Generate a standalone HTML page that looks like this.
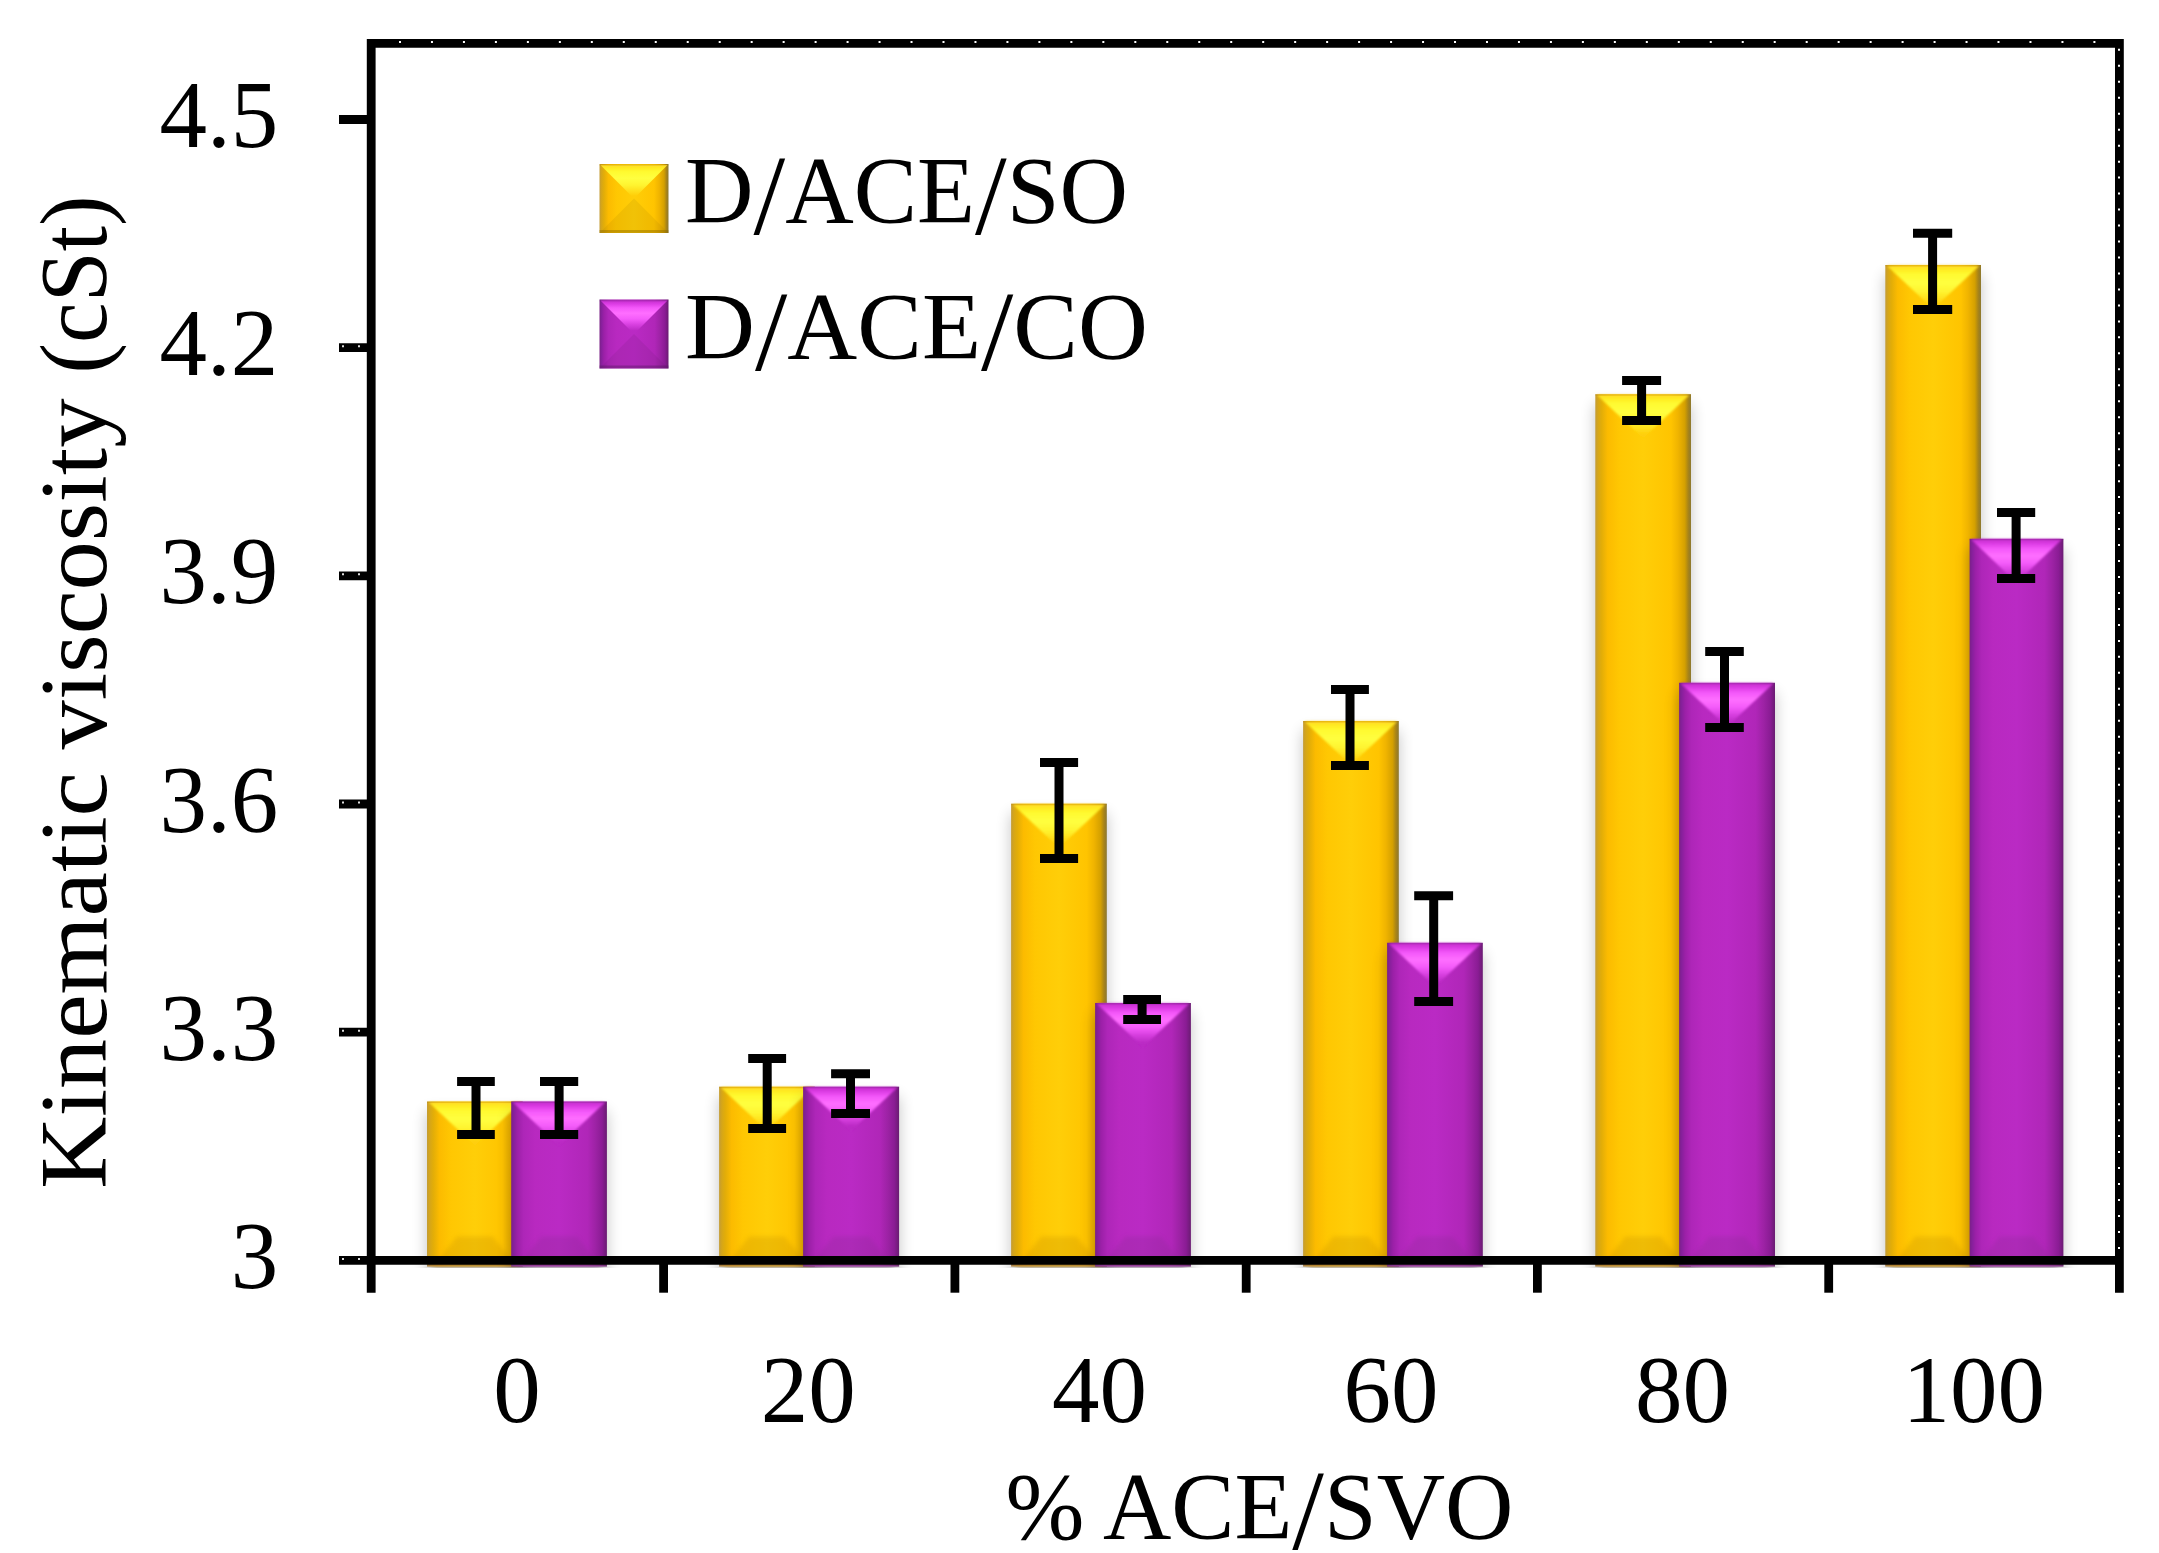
<!DOCTYPE html>
<html><head><meta charset="utf-8"><title>Kinematic viscosity</title>
<style>
html,body{margin:0;padding:0;background:#fff}
svg{display:block}
text{font-family:"Liberation Serif",serif;fill:#000}
</style></head><body>
<svg width="2159" height="1553" viewBox="0 0 2159 1553">
<defs>
<filter id="bl" x="-50%" y="-20%" width="200%" height="140%"><feGaussianBlur stdDeviation="7.5"/></filter>
<filter id="b3" x="-20%" y="-30%" width="140%" height="160%"><feGaussianBlur stdDeviation="2"/></filter>
<filter id="b2" x="-20%" y="-20%" width="140%" height="140%"><feGaussianBlur stdDeviation="1.2"/></filter>
<linearGradient id="gy" x1="0" x2="1" y1="0" y2="0">
<stop offset="0" stop-color="#C49C34"/><stop offset=".03" stop-color="#D6A618"/><stop offset=".065" stop-color="#E2AD08"/><stop offset=".13" stop-color="#FCBB00"/><stop offset=".25" stop-color="#FFC702"/><stop offset=".5" stop-color="#FFCE08"/><stop offset=".79" stop-color="#FFC400"/><stop offset=".865" stop-color="#F0B400"/><stop offset=".935" stop-color="#D4A000"/><stop offset=".97" stop-color="#A88418"/><stop offset="1" stop-color="#8C7830"/>
</linearGradient>
<linearGradient id="gp" x1="0" x2="1" y1="0" y2="0">
<stop offset="0" stop-color="#7A2086"/><stop offset=".025" stop-color="#85209A"/><stop offset=".065" stop-color="#9C20A8"/><stop offset=".13" stop-color="#AE26B8"/><stop offset=".25" stop-color="#B829C0"/><stop offset=".5" stop-color="#BA2AC4"/><stop offset=".8" stop-color="#B026B8"/><stop offset=".885" stop-color="#9C22A4"/><stop offset=".95" stop-color="#8A1C94"/><stop offset="1" stop-color="#6A1C72"/>
</linearGradient>
<linearGradient id="ty" x1="0" x2="0" y1="0" y2="1">
<stop offset="0" stop-color="#FFD830"/><stop offset=".07" stop-color="#FFE820"/><stop offset=".2" stop-color="#FFFA30"/><stop offset=".4" stop-color="#FFFF40"/><stop offset=".6" stop-color="#FFF430"/><stop offset=".8" stop-color="#FFDC18"/><stop offset=".92" stop-color="#FFCE08"/><stop offset="1" stop-color="#FFCE08"/>
</linearGradient>
<linearGradient id="tp" x1="0" x2="0" y1="0" y2="1">
<stop offset="0" stop-color="#C42ECC"/><stop offset=".1" stop-color="#DC3CE4"/><stop offset=".22" stop-color="#F458FA"/><stop offset=".38" stop-color="#FF6EFF"/><stop offset=".55" stop-color="#F45CFA"/><stop offset=".72" stop-color="#D840E0"/><stop offset=".9" stop-color="#BA2AC4"/><stop offset="1" stop-color="#BA2AC4"/>
</linearGradient>
</defs>
<rect width="2159" height="1553" fill="#fff"/>

<clipPath id="cp"><rect x="0" y="0" width="2159" height="1268"/></clipPath><g clip-path="url(#cp)">
<rect x="427.0" y="1111.5" width="95.7" height="185.0" fill="#000" opacity=".23" filter="url(#bl)"/>
<rect x="427.0" y="1101.5" width="95.7" height="165.0" fill="url(#gy)"/>
<g filter="url(#b2)"><polygon points="428.5,1102.0 521.2,1102.0 474.9,1145.5" fill="url(#ty)"/></g>
<polygon points="431.0,1269.5 518.7,1269.5 492.7,1236.5 457.0,1236.5" fill="#B07800" opacity=".2" filter="url(#b3)"/>
<rect x="427.0" y="1101.5" width="95.7" height="1.5" fill="#B07800" opacity=".25"/>
<rect x="427.0" y="1264.0" width="95.7" height="2.5" fill="#70506a" opacity=".45"/>
<rect x="719.1" y="1096.7" width="95.7" height="199.8" fill="#000" opacity=".23" filter="url(#bl)"/>
<rect x="719.1" y="1086.7" width="95.7" height="179.8" fill="url(#gy)"/>
<g filter="url(#b2)"><polygon points="720.6,1087.2 813.3,1087.2 767.0,1130.7" fill="url(#ty)"/></g>
<polygon points="723.1,1269.5 810.8,1269.5 784.8,1236.5 749.1,1236.5" fill="#B07800" opacity=".2" filter="url(#b3)"/>
<rect x="719.1" y="1086.7" width="95.7" height="1.5" fill="#B07800" opacity=".25"/>
<rect x="719.1" y="1264.0" width="95.7" height="2.5" fill="#70506a" opacity=".45"/>
<rect x="1011.1" y="813.7" width="95.7" height="482.8" fill="#000" opacity=".23" filter="url(#bl)"/>
<rect x="1011.1" y="803.7" width="95.7" height="462.8" fill="url(#gy)"/>
<g filter="url(#b2)"><polygon points="1012.6,804.2 1105.3,804.2 1059.0,847.7" fill="url(#ty)"/></g>
<polygon points="1015.1,1269.5 1102.8,1269.5 1076.8,1236.5 1041.1,1236.5" fill="#B07800" opacity=".2" filter="url(#b3)"/>
<rect x="1011.1" y="803.7" width="95.7" height="1.5" fill="#B07800" opacity=".25"/>
<rect x="1011.1" y="1264.0" width="95.7" height="2.5" fill="#70506a" opacity=".45"/>
<rect x="1303.1" y="731.0" width="95.7" height="565.5" fill="#000" opacity=".23" filter="url(#bl)"/>
<rect x="1303.1" y="721.0" width="95.7" height="545.5" fill="url(#gy)"/>
<g filter="url(#b2)"><polygon points="1304.6,721.5 1397.3,721.5 1350.9,765.0" fill="url(#ty)"/></g>
<polygon points="1307.1,1269.5 1394.8,1269.5 1368.8,1236.5 1333.1,1236.5" fill="#B07800" opacity=".2" filter="url(#b3)"/>
<rect x="1303.1" y="721.0" width="95.7" height="1.5" fill="#B07800" opacity=".25"/>
<rect x="1303.1" y="1264.0" width="95.7" height="2.5" fill="#70506a" opacity=".45"/>
<rect x="1595.3" y="404.2" width="95.7" height="892.3" fill="#000" opacity=".23" filter="url(#bl)"/>
<rect x="1595.3" y="394.2" width="95.7" height="872.3" fill="url(#gy)"/>
<g filter="url(#b2)"><polygon points="1596.8,394.7 1689.5,394.7 1643.1,438.2" fill="url(#ty)"/></g>
<polygon points="1599.3,1269.5 1687.0,1269.5 1661.0,1236.5 1625.3,1236.5" fill="#B07800" opacity=".2" filter="url(#b3)"/>
<rect x="1595.3" y="394.2" width="95.7" height="1.5" fill="#B07800" opacity=".25"/>
<rect x="1595.3" y="1264.0" width="95.7" height="2.5" fill="#70506a" opacity=".45"/>
<rect x="1885.3" y="275.0" width="95.7" height="1021.5" fill="#000" opacity=".23" filter="url(#bl)"/>
<rect x="1885.3" y="265.0" width="95.7" height="1001.5" fill="url(#gy)"/>
<g filter="url(#b2)"><polygon points="1886.8,265.5 1979.5,265.5 1933.1,309.0" fill="url(#ty)"/></g>
<polygon points="1889.3,1269.5 1977.0,1269.5 1951.0,1236.5 1915.3,1236.5" fill="#B07800" opacity=".2" filter="url(#b3)"/>
<rect x="1885.3" y="265.0" width="95.7" height="1.5" fill="#B07800" opacity=".25"/>
<rect x="1885.3" y="1264.0" width="95.7" height="2.5" fill="#70506a" opacity=".45"/>
<rect x="511.2" y="1111.5" width="95.7" height="185.0" fill="#000" opacity=".23" filter="url(#bl)"/>
<rect x="511.2" y="1101.5" width="95.7" height="165.0" fill="url(#gp)"/>
<g filter="url(#b2)"><polygon points="512.7,1102.0 605.4,1102.0 559.0,1145.5" fill="url(#tp)"/></g>
<polygon points="515.2,1269.5 602.9,1269.5 576.9,1236.5 541.2,1236.5" fill="#7A2A86" opacity=".2" filter="url(#b3)"/>
<rect x="511.2" y="1101.5" width="95.7" height="1.5" fill="#7A2A86" opacity=".25"/>
<rect x="511.2" y="1264.0" width="95.7" height="2.5" fill="#70506a" opacity=".45"/>
<rect x="803.1" y="1096.7" width="96" height="199.8" fill="#000" opacity=".23" filter="url(#bl)"/>
<rect x="803.1" y="1086.7" width="96" height="179.8" fill="url(#gp)"/>
<g filter="url(#b2)"><polygon points="804.6,1087.2 897.6,1087.2 851.1,1130.7" fill="url(#tp)"/></g>
<polygon points="807.1,1269.5 895.1,1269.5 869.1,1236.5 833.1,1236.5" fill="#7A2A86" opacity=".2" filter="url(#b3)"/>
<rect x="803.1" y="1086.7" width="96" height="1.5" fill="#7A2A86" opacity=".25"/>
<rect x="803.1" y="1264.0" width="96" height="2.5" fill="#70506a" opacity=".45"/>
<rect x="1095.1" y="1013.0" width="95.8" height="283.5" fill="#000" opacity=".23" filter="url(#bl)"/>
<rect x="1095.1" y="1003.0" width="95.8" height="263.5" fill="url(#gp)"/>
<g filter="url(#b2)"><polygon points="1096.6,1003.5 1189.4,1003.5 1143.0,1047.0" fill="url(#tp)"/></g>
<polygon points="1099.1,1269.5 1186.9,1269.5 1160.9,1236.5 1125.1,1236.5" fill="#7A2A86" opacity=".2" filter="url(#b3)"/>
<rect x="1095.1" y="1003.0" width="95.8" height="1.5" fill="#7A2A86" opacity=".25"/>
<rect x="1095.1" y="1264.0" width="95.8" height="2.5" fill="#70506a" opacity=".45"/>
<rect x="1387.1" y="952.8" width="95.7" height="343.7" fill="#000" opacity=".23" filter="url(#bl)"/>
<rect x="1387.1" y="942.8" width="95.7" height="323.7" fill="url(#gp)"/>
<g filter="url(#b2)"><polygon points="1388.6,943.3 1481.3,943.3 1434.9,986.8" fill="url(#tp)"/></g>
<polygon points="1391.1,1269.5 1478.8,1269.5 1452.8,1236.5 1417.1,1236.5" fill="#7A2A86" opacity=".2" filter="url(#b3)"/>
<rect x="1387.1" y="942.8" width="95.7" height="1.5" fill="#7A2A86" opacity=".25"/>
<rect x="1387.1" y="1264.0" width="95.7" height="2.5" fill="#70506a" opacity=".45"/>
<rect x="1679.1" y="692.8" width="95.9" height="603.7" fill="#000" opacity=".23" filter="url(#bl)"/>
<rect x="1679.1" y="682.8" width="95.9" height="583.7" fill="url(#gp)"/>
<g filter="url(#b2)"><polygon points="1680.6,683.3 1773.5,683.3 1727.0,726.8" fill="url(#tp)"/></g>
<polygon points="1683.1,1269.5 1771.0,1269.5 1745.0,1236.5 1709.1,1236.5" fill="#7A2A86" opacity=".2" filter="url(#b3)"/>
<rect x="1679.1" y="682.8" width="95.9" height="1.5" fill="#7A2A86" opacity=".25"/>
<rect x="1679.1" y="1264.0" width="95.9" height="2.5" fill="#70506a" opacity=".45"/>
<rect x="1969.6" y="548.8" width="93.8" height="747.7" fill="#000" opacity=".23" filter="url(#bl)"/>
<rect x="1969.6" y="538.8" width="93.8" height="727.7" fill="url(#gp)"/>
<g filter="url(#b2)"><polygon points="1971.1,539.3 2061.9,539.3 2016.5,582.8" fill="url(#tp)"/></g>
<polygon points="1973.6,1269.5 2059.4,1269.5 2033.4,1236.5 1999.6,1236.5" fill="#7A2A86" opacity=".2" filter="url(#b3)"/>
<rect x="1969.6" y="538.8" width="93.8" height="1.5" fill="#7A2A86" opacity=".25"/>
<rect x="1969.6" y="1264.0" width="93.8" height="2.5" fill="#70506a" opacity=".45"/>
</g>
<g stroke="#000" stroke-width="8.8" fill="none">
<path d="M371.2,1292.7V43.4H2119.4V1292.7"/>
<path d="M339,1260.4H2119.4"/>
<path d="M339,1032.2H371.2"/>
<path d="M339,804.0H371.2"/>
<path d="M339,575.8H371.2"/>
<path d="M339,347.7H371.2"/>
<path d="M339,119.5H371.2"/>
<path d="M663.6,1260.4V1292.7"/>
<path d="M954.9,1260.4V1292.7"/>
<path d="M1246.2,1260.4V1292.7"/>
<path d="M1537.4,1260.4V1292.7"/>
<path d="M1828.7,1260.4V1292.7"/>
</g>
<path d="M399,41.9H2111.4" stroke="#fff" stroke-width="2" stroke-dasharray="2 29.97" fill="none"/>
<path d="M2119.0,48.8V1252" stroke="#fff" stroke-width="2" stroke-dasharray="2 13.975" fill="none"/>
<path d="M342,1258.9H362" stroke="#ddd" stroke-width="2" stroke-dasharray="2 14" fill="none"/>
<path d="M342,1030.7H362" stroke="#ddd" stroke-width="2" stroke-dasharray="2 14" fill="none"/>
<path d="M342,802.5H362" stroke="#ddd" stroke-width="2" stroke-dasharray="2 14" fill="none"/>
<path d="M342,574.3H362" stroke="#ddd" stroke-width="2" stroke-dasharray="2 14" fill="none"/>
<path d="M342,346.2H362" stroke="#ddd" stroke-width="2" stroke-dasharray="2 14" fill="none"/>
<path d="M457.1,1081.5H494.8M457.1,1134.4H494.8M476.0,1078.0V1137.9" stroke="#000" stroke-width="9" fill="none"/>
<path d="M540.0,1081.5H578.2M540.0,1134.4H578.2M559.1,1078.0V1137.9" stroke="#000" stroke-width="9" fill="none"/>
<path d="M748.2,1058.4H786.1M748.2,1128.6H786.1M767.2,1054.9V1132.1" stroke="#000" stroke-width="9" fill="none"/>
<path d="M831.1,1073.7H870.0M831.1,1113.5H870.0M850.5,1070.2V1117.0" stroke="#000" stroke-width="9" fill="none"/>
<path d="M1040.0,762.6H1078.1M1040.0,858.4H1078.1M1059.0,759.1V861.9" stroke="#000" stroke-width="9" fill="none"/>
<path d="M1123.2,999.5H1161.0M1123.2,1019.4H1161.0M1142.1,996.0V1022.9" stroke="#000" stroke-width="9" fill="none"/>
<path d="M1331.0,689.5H1368.9M1331.0,765.5H1368.9M1350.0,686.0V769.0" stroke="#000" stroke-width="9" fill="none"/>
<path d="M1414.2,895.8H1453.1M1414.2,1001.4H1453.1M1433.7,892.3V1004.9" stroke="#000" stroke-width="9" fill="none"/>
<path d="M1622.1,380.4H1661.1M1622.1,420.5H1661.1M1641.6,376.9V424.0" stroke="#000" stroke-width="9" fill="none"/>
<path d="M1705.2,651.4H1743.8M1705.2,727.5H1743.8M1724.5,647.9V731.0" stroke="#000" stroke-width="9" fill="none"/>
<path d="M1913.0,233.3H1952.2M1913.0,309.5H1952.2M1932.6,229.8V313.0" stroke="#000" stroke-width="9" fill="none"/>
<path d="M1997.0,512.4H2035.2M1997.0,578.5H2035.2M2016.1,508.9V582.0" stroke="#000" stroke-width="9" fill="none"/>
<rect x="599.5" y="164" width="69" height="69" fill="url(#gy)"/>
<polygon points="600.5,165 667.5,165 634.0,198.5" fill="url(#ty)"/>
<polygon points="600.5,232 667.5,232 634.0,198.5" fill="#8C6A00" opacity=".12"/>
<rect x="599.5" y="230" width="69" height="3" fill="#8C6A00" opacity=".45"/>
<rect x="599.5" y="164" width="69" height="2" fill="#8C6A00" opacity=".15"/>
<rect x="599.5" y="299.5" width="69" height="69" fill="url(#gp)"/>
<polygon points="600.5,300.5 667.5,300.5 634.0,334.0" fill="url(#tp)"/>
<polygon points="600.5,367.5 667.5,367.5 634.0,334.0" fill="#5A1A66" opacity=".12"/>
<rect x="599.5" y="365.5" width="69" height="3" fill="#5A1A66" opacity=".45"/>
<rect x="599.5" y="299.5" width="69" height="2" fill="#5A1A66" opacity=".15"/>
<text x="685" y="223" font-size="95" textLength="443" lengthAdjust="spacingAndGlyphs">D<tspan font-size="114" dy="10.5">/</tspan><tspan dy="-10.5">ACE</tspan><tspan font-size="114" dy="10.5">/</tspan><tspan dy="-10.5">SO</tspan></text>
<text x="685" y="359" font-size="95" textLength="463" lengthAdjust="spacingAndGlyphs">D<tspan font-size="114" dy="10.5">/</tspan><tspan dy="-10.5">ACE</tspan><tspan font-size="114" dy="10.5">/</tspan><tspan dy="-10.5">CO</tspan></text>
<text x="278.3" y="1288.0" font-size="95" text-anchor="end">3</text>
<text x="278.3" y="1059.8" font-size="95" text-anchor="end">3.3</text>
<text x="278.3" y="831.6" font-size="95" text-anchor="end">3.6</text>
<text x="278.3" y="603.4" font-size="95" text-anchor="end">3.9</text>
<text x="278.3" y="375.3" font-size="95" text-anchor="end">4.2</text>
<text x="278.3" y="147.1" font-size="95" text-anchor="end">4.5</text>
<text x="516.9" y="1421.6" font-size="95" text-anchor="middle">0</text>
<text x="808.2" y="1421.6" font-size="95" text-anchor="middle">20</text>
<text x="1099.6" y="1421.6" font-size="95" text-anchor="middle">40</text>
<text x="1391.0" y="1421.6" font-size="95" text-anchor="middle">60</text>
<text x="1682.4" y="1421.6" font-size="95" text-anchor="middle">80</text>
<text x="1973.7" y="1421.6" font-size="95" text-anchor="middle">100</text>
<text x="1259.5" y="1538.8" font-size="95" text-anchor="middle" textLength="508" lengthAdjust="spacingAndGlyphs">% ACE<tspan font-size="114" dy="10.5">/</tspan><tspan dy="-10.5">SVO</tspan></text>
<text transform="translate(105.5,0) rotate(-90)" font-size="95"><tspan x="-1189" textLength="417" lengthAdjust="spacingAndGlyphs">Kinematic</tspan> <tspan x="-749.5" textLength="351" lengthAdjust="spacingAndGlyphs">viscosity</tspan> <tspan x="-373.5" textLength="178" lengthAdjust="spacingAndGlyphs">(cSt)</tspan></text>
</svg></body></html>
